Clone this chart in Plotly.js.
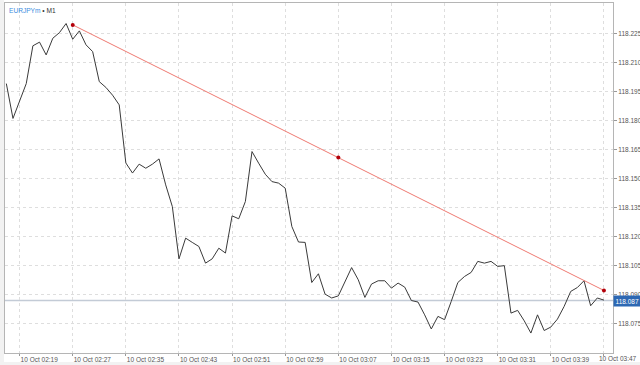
<!DOCTYPE html>
<html>
<head>
<meta charset="utf-8">
<script src="https://cdn.plot.ly/plotly-3.0.1.min.js"></script>
<style>
html,body{margin:0;padding:0;background:#fff;}
#chart{width:640px;height:365px;}
</style>
</head>
<body>
<div id="chart"></div>
<script>
// M1 closes starting 10 Oct 02:17, one per minute
const startTime = '2024-10-10T02:17:00';
const closes = [
  118.199, 118.181, 118.190, 118.199, 118.2185, 118.2204, 118.2138, 118.2224, 118.2253, 118.230,
  118.2219, 118.2262, 118.219, 118.2155, 118.200, 118.197, 118.193, 118.188, 118.158, 118.1528,
  118.1574, 118.1553, 118.1574, 118.1601, 118.1467, 118.1355, 118.1085, 118.1192, 118.117, 118.1149,
  118.1063, 118.1085, 118.114, 118.1115, 118.1307, 118.1292, 118.1381, 118.1639, 118.1579, 118.1522,
  118.1484, 118.1476, 118.145, 118.1252, 118.1172, 118.117, 118.0963, 118.1008, 118.0903, 118.0883,
  118.0894, 118.0968, 118.104, 118.0977, 118.0886, 118.0955, 118.0972, 118.0972, 118.0934, 118.096,
  118.0939, 118.087, 118.0862, 118.0796, 118.0723, 118.0788, 118.0771, 118.0865, 118.0963, 118.0994,
  118.1015, 118.1072, 118.1063, 118.1072, 118.1046, 118.105, 118.0805, 118.0819, 118.0765, 118.0702,
  118.0796, 118.0715, 118.0733, 118.0774, 118.0839, 118.0917, 118.0937, 118.0972, 118.0843, 118.0883,
  118.0872
];
// trend line (start, middle, end)
const trendTimes = ['2024-10-10 02:27', '2024-10-10 03:07', '2024-10-10 03:47'];
const trendPrices = [118.2293, 118.1608, 118.0922];
const currentPrice = 118.087;
const priceTicks = [118.075, 118.090, 118.105, 118.120, 118.135, 118.150, 118.165, 118.180, 118.195, 118.210, 118.225];
const timeTicks = ['2024-10-10 02:19', '2024-10-10 02:27', '2024-10-10 02:35', '2024-10-10 02:43',
  '2024-10-10 02:51', '2024-10-10 02:59', '2024-10-10 03:07', '2024-10-10 03:15',
  '2024-10-10 03:23', '2024-10-10 03:31', '2024-10-10 03:39', '2024-10-10 03:47'];
const timeTickLabels = ['10 Oct 02:19', '10 Oct 02:27', '10 Oct 02:35', '10 Oct 02:43',
  '10 Oct 02:51', '10 Oct 02:59', '10 Oct 03:07', '10 Oct 03:15',
  '10 Oct 03:23', '10 Oct 03:31', '10 Oct 03:39', '10 Oct 03:47'];
const symbolName = 'EURJPYm';
const timeframe = 'M1';

function pad(n){return (n<10?'0':'')+n;}
const t0 = new Date(startTime + 'Z').getTime();
const times = closes.map((_, i) => {
  const d = new Date(t0 + i*60000);
  return d.getUTCFullYear()+'-'+pad(d.getUTCMonth()+1)+'-'+pad(d.getUTCDate())+' '+pad(d.getUTCHours())+':'+pad(d.getUTCMinutes());
});

const FONT = 'Liberation Sans, Arial, sans-serif';
const lastIdx = timeTicks.length - 1;

const traces = [
  {
    x: times, y: closes, type: 'scatter', mode: 'lines',
    line: {color: '#3a3a3a', width: 1}, hoverinfo: 'skip'
  },
  {
    x: trendTimes, y: trendPrices, type: 'scatter', mode: 'lines+markers',
    line: {color: '#ef7a72', width: 1},
    marker: {color: '#b3000a', size: 4},
    hoverinfo: 'skip'
  }
];

const layout = {
  width: 640, height: 365,
  margin: {l: 5, r: 27, t: 3, b: 12, pad: 0},
  paper_bgcolor: '#ffffff',
  plot_bgcolor: '#ffffff',
  showlegend: false,
  font: {family: FONT, size: 6.5, color: '#555'},
  xaxis: {
    type: 'date',
    range: ['2024-10-10 02:16:48', '2024-10-10 03:48:22'],
    tickmode: 'array', tickvals: timeTicks, ticktext: timeTickLabels,
    ticklabelposition: 'outside right',
    ticks: 'outside', ticklen: 2, tickcolor: '#999',
    showgrid: true, gridcolor: '#dedede', griddash: 'dot', gridwidth: 1,
    showline: true, linecolor: '#b5b5b5', linewidth: 1, mirror: true,
    zeroline: false,
    tickfont: {family: FONT, size: 6.5, color: '#555'},
    fixedrange: true
  },
  yaxis: {
    side: 'right',
    range: [118.0599, 118.2406],
    tickmode: 'array', tickvals: priceTicks,
    ticktext: priceTicks.map(v => v.toFixed(3)),
    ticks: 'outside', ticklen: 3, tickcolor: '#999',
    showgrid: true, gridcolor: '#dedede', griddash: 'dot', gridwidth: 1,
    showline: true, linecolor: '#b5b5b5', linewidth: 1, mirror: true,
    zeroline: false,
    tickfont: {family: FONT, size: 6.5, color: '#555'},
    fixedrange: true
  },
  shapes: [
    {type: 'line', xref: 'paper', x0: 0, x1: 1, yref: 'y', y0: currentPrice, y1: currentPrice,
     line: {color: '#c3cbd6', width: 1.5}, layer: 'below'},
    {type: 'rect', xref: 'paper', yref: 'paper', x0: -5/608, x1: -1/608, y0: -12/350, y1: 1.01,
     fillcolor: '#f2f2f2', line: {width: 0}, layer: 'below'},
    {type: 'rect', xref: 'paper', yref: 'paper', x0: -5/608, x1: 1.05, y0: -12/350, y1: -9/350,
     fillcolor: '#f2f2f2', line: {width: 0}, layer: 'below'}
  ],
  annotations: [
    {xref: 'paper', yref: 'paper', x: 0.003, y: 0.995, xanchor: 'left', yanchor: 'top',
     showarrow: false,
     text: '<span style="color:#3b8de0">' + symbolName + '</span> • ' + timeframe,
     font: {family: FONT, size: 6.6, color: '#333'}},
    {xref: 'paper', yref: 'y', x: 1, y: currentPrice, xanchor: 'left', yanchor: 'middle',
     showarrow: false, text: currentPrice.toFixed(3),
     bgcolor: '#2d68b3', borderpad: 1.5,
     font: {family: FONT, size: 6.5, color: '#ffffff'}},
    // last time label, kept inside the picture at the right-hand corner
    {xref: 'paper', yref: 'paper', x: 1, xshift: 26, y: 0, yshift: 0,
     xanchor: 'right', yanchor: 'top', showarrow: false, text: timeTickLabels[lastIdx],
     font: {family: FONT, size: 6.5, color: '#555'}}
  ]
};

Plotly.newPlot('chart', traces, layout, {displayModeBar: false, staticPlot: true});
</script>
</body>
</html>
